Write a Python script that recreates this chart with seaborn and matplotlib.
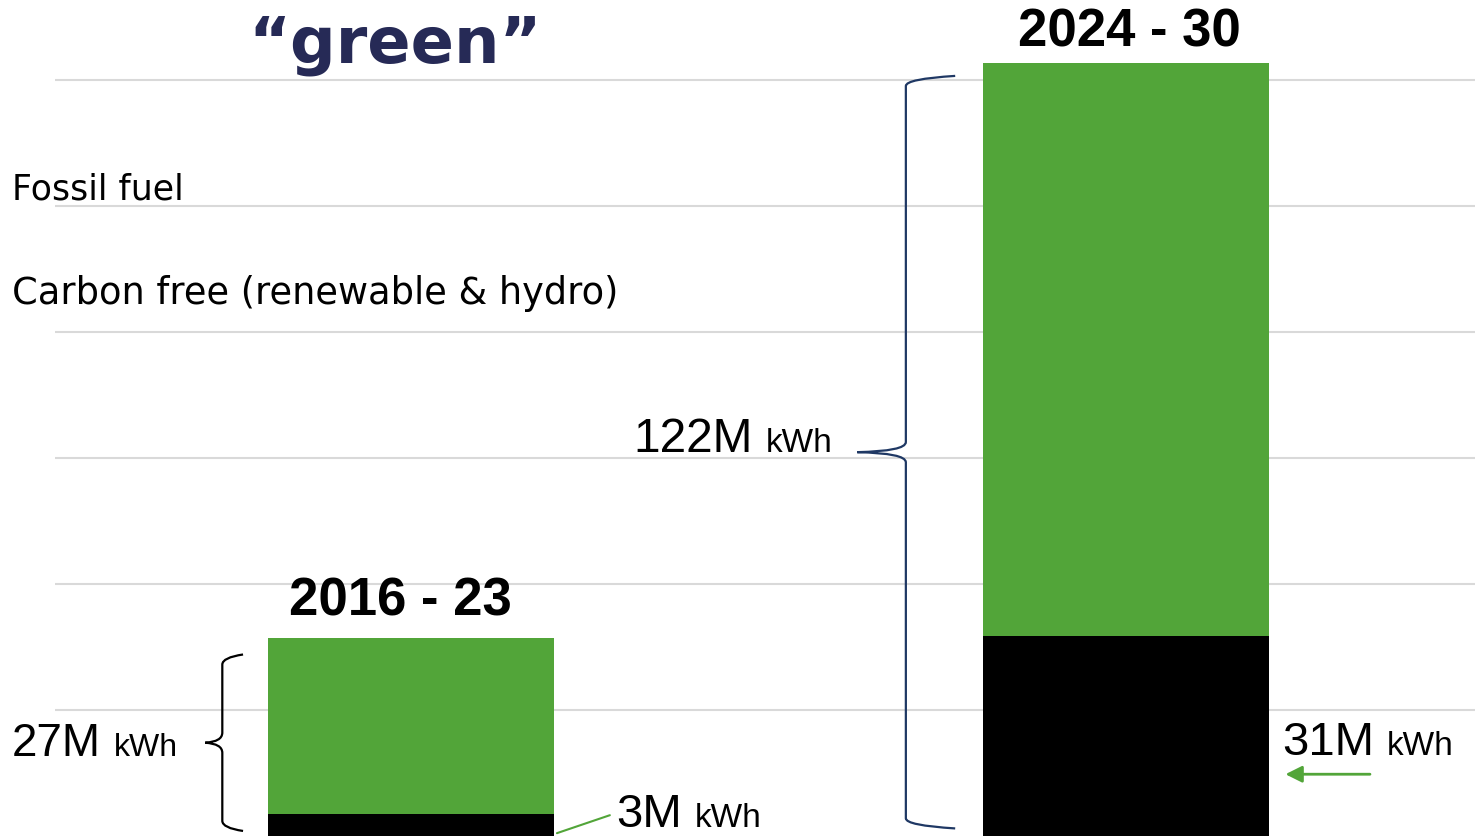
import numpy as np
import pandas as pd
import matplotlib.pyplot as plt
from matplotlib.path import Path
from matplotlib.patches import PathPatch
import seaborn as sns

# values (million kWh)
periods = ["2016 - 23", "2024 - 30"]
fossil = [3.5, 31.8]
carbon_free = [27.9, 90.8]
big_labels = ["27M", "3M", "122M", "31M"]

GREEN = "#52a539"
NAVY = "#1f3864"
TITLE = "#262a56"

sns.set_theme(style="white")
plt.rcParams["font.family"] = ["Liberation Sans", "DejaVu Sans"]
plt.rcParams["text.color"] = "black"

df = pd.DataFrame({"period": periods, "fossil": fossil, "carbon_free": carbon_free})
df["total"] = df["fossil"] + df["carbon_free"]

W, H = 1475, 837
fig = plt.figure(figsize=(W / 100, H / 100), dpi=100)
ax = fig.add_axes([55 / W, 0, 1420 / W, 1])

sns.barplot(data=df, x="period", y="total", color=GREEN, saturation=1,
            width=0.4, linewidth=0, ax=ax, zorder=3)
sns.barplot(data=df, x="period", y="fossil", color="black", saturation=1,
            width=0.4, linewidth=0, ax=ax, zorder=4)

ax.set_xlim(-0.498, 1.488)
ax.set_ylim(0, 132.8)
ax.set_yticks(np.arange(20, 121, 20))
ax.yaxis.grid(True, color="#d9d9d9", linewidth=1.5, zorder=0)
ax.tick_params(left=False, bottom=False, labelleft=False, labelbottom=False)
ax.set_xlabel("")
ax.set_ylabel("")
for s in ax.spines.values():
    s.set_visible(False)

# period labels above bars (slightly nudged as in the original)
label_dx = [-0.015, 0.005]
label_dy = [3.8, 2.9]
for i, row in df.iterrows():
    ax.text(i + label_dx[i], row["total"] + label_dy[i], row["period"], ha="center",
            va="baseline", fontsize=38, fontweight="bold", color="black")

# title and legend text
fig.text(395 / W, 1 - 62 / H, "\u201cgreen\u201d", ha="center", va="baseline",
         fontsize=46, fontweight="bold", color=TITLE, family=["DejaVu Sans"])
fig.text(12 / W, 1 - 200 / H, "Fossil fuel", ha="left", va="baseline",
         fontsize=25, color="black", family=["DejaVu Sans"])
fig.text(12 / W, 1 - 304 / H, "Carbon free (renewable & hydro)", ha="left", va="baseline",
         fontsize=26.5, color="black", family=["DejaVu Sans"])


def brace(x, y0, y1, tip, hook, ry, color):
    ym = (y0 + y1) / 2
    verts = [(hook, y1), (x, y1 - ry * 0.3), (x, y1 - ry),
             (x, ym + ry),
             (x, ym + ry * 0.1), (tip, ym),
             (x, ym - ry * 0.1), (x, ym - ry),
             (x, y0 + ry),
             (x, y0 + ry * 0.3), (hook, y0)]
    codes = [Path.MOVETO, Path.CURVE3, Path.CURVE3, Path.LINETO,
             Path.CURVE3, Path.CURVE3, Path.CURVE3, Path.CURVE3,
             Path.LINETO, Path.CURVE3, Path.CURVE3]
    ax.add_patch(PathPatch(Path(verts, codes), fill=False, edgecolor=color,
                           linewidth=1.6, zorder=5, clip_on=False))


brace(-0.264, 0.8, df["total"][0] - 2.6, -0.288, -0.235, 1.6, "black")
brace(0.692, 1.2, df["total"][1] - 2.0, 0.624, 0.761, 1.6, NAVY)

# connector line and arrow
ax.plot([0.204, 0.278], [0.45, fossil[0] - 0.2], color=GREEN, linewidth=1.5, zorder=5,
        clip_on=False)
ax.annotate("", xy=(1.219, 9.8), xytext=(1.345, 9.8),
            arrowprops=dict(arrowstyle="-|>", color=GREEN, lw=2,
                            mutation_scale=25), zorder=5)

# value labels: big number + small unit
fig.canvas.draw()
renderer = fig.canvas.get_renderer()
label_pos = [(12, 756), (616, 827), (633, 452), (1282, 755)]
big_size = [33, 34, 34.5, 34]
for (px, py), big, fs in zip(label_pos, big_labels, big_size):
    t = fig.text(px / W, 1 - py / H, big, ha="left", va="baseline", fontsize=fs)
    bb = t.get_window_extent(renderer)
    fig.text((bb.x1 + 13) / W, 1 - py / H, "kWh", ha="left", va="baseline",
             fontsize=24 if fs > 33 else 23)

fig.savefig("out.png", dpi=100)
